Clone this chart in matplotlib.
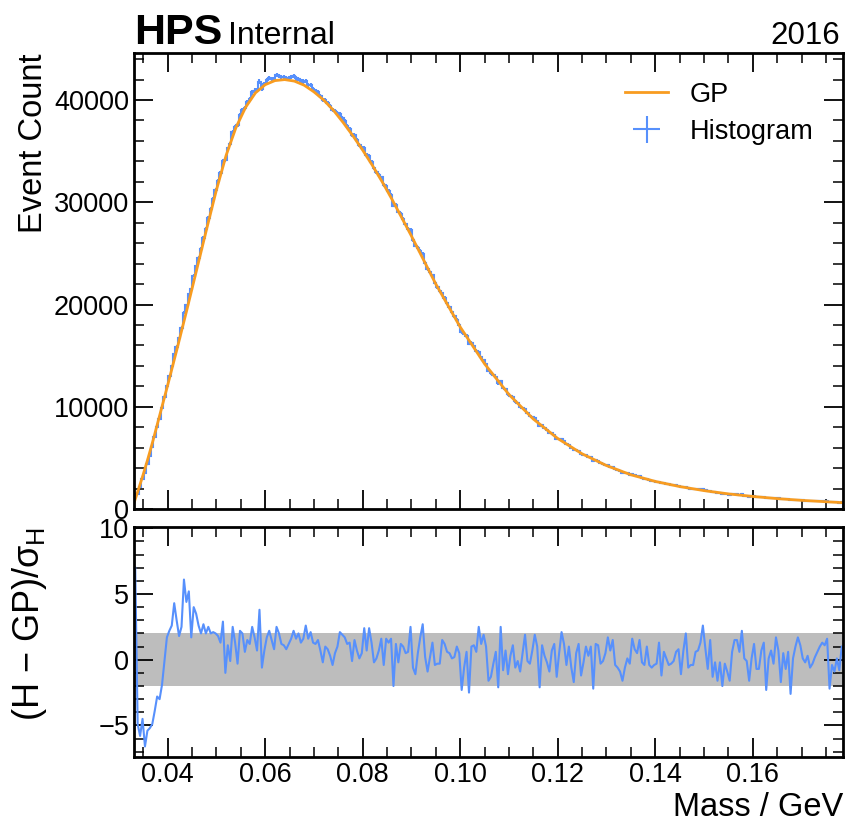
import numpy as np
import matplotlib
matplotlib.use("Agg")
import matplotlib.pyplot as plt
from matplotlib.ticker import MultipleLocator

plt.rcParams['font.family'] = ['Liberation Sans', 'DejaVu Sans']
plt.rcParams['mathtext.fontset'] = 'custom'
plt.rcParams['mathtext.rm'] = 'Liberation Sans'
plt.rcParams['mathtext.it'] = 'Liberation Sans'
plt.rcParams['mathtext.bf'] = 'Liberation Sans:bold'

# Data
mass_lo, mass_hi = 0.0331, 0.1785

# pull (H - GP)/sigma_H per bin
pulls = [
    7.0, -4.9, -5.8, -4.5, -6.6, -5.4, -5.2, -4.9, -3.9, -2.8,
    -3.0, -1.9, -0.1, 1.7, 2.2, 2.6, 4.3, 3.0, 1.8, 2.5,
    6.1, 4.4, 5.2, 1.7, 4.0, 3.5, 2.6, 2.0, 2.7, 2.0,
    2.5, 2.0, 2.1, 2.0, 1.8, 1.3, 2.9, -1.0, 1.1, -0.1,
    2.5, 1.3, -0.3, 2.2, 2.0, 0.6, 1.5,
    1.2, 2.5, 1.7, 0.7, 3.8, -0.6, 0.7, 1.7, 2.2, 1.5,
    0.8, 2.5, 2.0, 1.2, 1.1, 0.8, 1.2, 1.6, 2.2, 1.6,
    2.0, 1.3, 1.6, 2.6, 1.6, 2.1, 1.3, 1.2, 1.5, 0.7,
    -0.2, 1.0, 0.8, 0.3, -0.4, 0.5, 1.0, 2.1, 1.9, 1.7,
    1.2, 1.3, -0.1, 1.5, 0.7, 0.1, 0.5, 2.4,
    0.7, 2.4, 1.3, -0.2, 0.1, 0.7, 1.6, -0.4, 1.6, 1.3,
    1.6, -2.0, 1.2, -0.2, 1.2, 1.0, 0.5, 0.6, 2.5, -0.6,
    -1.1, 0.5, 1.7, 2.7, 0.2, -0.9, 0.2, 1.3, -0.4, -0.3,
    -0.3, 1.5, 1.2, 0.6, 0.5, 0.1, 0.2, 1.0, 0.5, -2.3,
    -0.6, 0.6, -2.5, 1.0, 1.1, 0.6, 2.5,
    1.2, 1.9, 1.0, -1.6, -1.3, -0.3, 0.6, -2.1, 2.5, -0.8,
    0.7, -1.1, 0.3, 1.1, -0.6, -0.1, -0.9, 0.5, 1.9, -0.1,
    -0.3, 0.7, 1.9, 1.0, -2.1, 1.1, 0.3, -0.2, -0.9, 0.7,
    1.2, -1.3, 0.5, 2.1, 1.2, -0.4, 1.0, -0.6, -1.7, 0.5,
    1.2, -1.2, -0.2, 1.0, 0.3, 1.0, -2.2,
    1.2, 1.1, -0.3, -0.1, 0.5, 1.7, 0.7, 1.5, -0.4, -0.6,
    -0.9, -1.6, -0.6, 0.1, -0.3, 1.6, 0.8, 0.5, 1.5, -0.2,
    -0.4, 1.0, -0.4, -0.6, -0.4, -0.3, 1.3, -1.2, 0.6, 0.1,
    -0.4, -0.3, -0.1, 0.6, 0.8, -1.1, 0.7, 2.0, -0.6, -0.4,
    -0.4, 0.6, 0.7, 1.3, 2.6, 0.9, -0.7,
    1.5, -1.3, -0.2, -1.6, -0.2, -2.0, -0.3, -0.9, -1.6, 0.6,
    1.5, 1.5, 0.6, 2.2, 0.1, -0.1, -1.6, 0.1, 1.2, -0.7,
    -0.7, 0.7, 1.3, -2.3, 0.1, 0.7, -0.3, 1.7, 0.7, -1.7,
    0.5, -0.7, 0.6, -2.6, 0.1, 1.0, 1.7, 1.1, 0.1, -0.2,
    0.3, -0.6, -0.3, 0.2, 0.6, 1.0, 1.3, 1.1, 1.6, -2.2,
    -0.4, -0.9, 0.1, -0.8, 1.0,
]

# GP curve
gp_mass = [0.0331, 0.034, 0.035, 0.036, 0.037, 0.038, 0.039, 0.040, 0.042,
           0.044, 0.046, 0.048, 0.050, 0.052, 0.054, 0.056, 0.058, 0.060,
           0.062, 0.064, 0.066, 0.068, 0.070, 0.072, 0.074, 0.076, 0.078,
           0.080, 0.082, 0.084, 0.086, 0.088, 0.090, 0.095, 0.100, 0.105,
           0.110, 0.115, 0.120, 0.125, 0.130, 0.135, 0.140, 0.145, 0.150,
           0.155, 0.160, 0.165, 0.170, 0.1785]
gp_count = [600, 1900, 3400, 5000, 6700, 8500, 10300, 12100, 15800,
            19600, 23500, 27400, 31200, 34600, 37300, 39300, 40700, 41500,
            41900, 42000, 41850, 41450, 40800, 40000, 39000, 37800, 36500,
            35100, 33600, 32000, 30300, 28500, 26700, 22000, 17800, 14200,
            11200, 8800, 6900, 5400, 4250, 3350, 2700, 2200, 1800,
            1480, 1230, 1020, 850, 620]

blue = '#5790fc'
orange = '#f89c20'

edges = np.linspace(mass_lo, mass_hi, len(pulls) + 1)
centers = 0.5 * (edges[1:] + edges[:-1])
p = np.array(pulls)
gp_c = np.interp(centers, gp_mass, gp_count)
# H = GP + pull * sqrt(H)
hist = ((p + np.sqrt(p ** 2 + 4 * gp_c)) / 2) ** 2

fig = plt.figure(figsize=(8.46, 8.23), dpi=100)
ax1 = fig.add_axes([0.1584, 0.3815, 0.838, 0.5541])
ax2 = fig.add_axes([0.1584, 0.0802, 0.838, 0.2795], sharex=ax1)

ax1.stairs(hist, edges, color=blue, lw=1.5)
eb = ax1.errorbar(centers, hist, yerr=np.sqrt(hist), xerr=np.diff(edges) / 2,
                  fmt='none', ecolor=blue, elinewidth=1.5, label='Histogram')
gp_line, = ax1.plot(gp_mass, gp_count, color=orange, lw=2, label='GP')
ax1.legend(handles=[gp_line, eb], loc='upper right', frameon=False,
           fontsize=19.5, handlelength=1.6, labelspacing=0.4,
           bbox_to_anchor=(0.993, 0.99))

ax2.fill_between([mass_lo, mass_hi], -2, 2, color='#bdbdbd', lw=0)
ax2.plot(centers, p, color=blue, lw=1.5)

ax1.set_xlim(mass_lo, mass_hi)
ax1.set_ylim(0, 44600)
ax2.set_ylim(-7.4, 10.1)

for ax in (ax1, ax2):
    ax.tick_params(which='both', direction='in', top=True, right=True,
                   labelsize=19.5)
    ax.tick_params(which='major', length=14, width=1.3)
    ax.tick_params(which='minor', length=7, width=1.1)
    for s in ax.spines.values():
        s.set_linewidth(2)
ax1.tick_params(labelbottom=False)
ax1.xaxis.set_major_locator(MultipleLocator(0.02))
ax1.xaxis.set_minor_locator(MultipleLocator(0.005))
ax1.yaxis.set_major_locator(MultipleLocator(10000))
ax1.yaxis.set_minor_locator(MultipleLocator(2000))
ax2.yaxis.set_major_locator(MultipleLocator(5))
ax2.yaxis.set_minor_locator(MultipleLocator(1))

ax1.set_ylabel('Event Count', loc='top', fontsize=23.5)
ax1.yaxis.set_label_coords(-0.12, 1)
ax2.set_ylabel(r'(H − GP)/$\sigma_{H}$', loc='top', fontsize=26)
ax2.yaxis.set_label_coords(-0.12, 1)
ax2.set_xlabel('Mass / GeV', loc='right', fontsize=23.5)
ax2.xaxis.set_label_coords(1, -0.152)

ax1.text(0, 1.0197, 'HPS', transform=ax1.transAxes, fontsize=31,
         fontweight='bold', va='baseline', ha='left')
ax1.text(0.1326, 1.0197, 'Internal', transform=ax1.transAxes, fontsize=23,
         va='baseline', ha='left')
ax1.text(0.9958, 1.0197, '2016', transform=ax1.transAxes, fontsize=22.5,
         va='baseline', ha='right')

fig.savefig('out.png', dpi=100)
